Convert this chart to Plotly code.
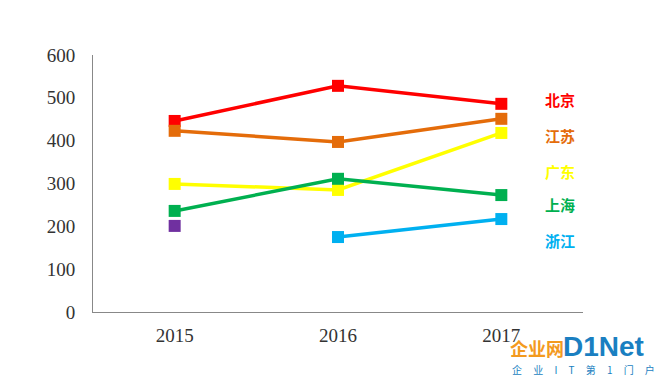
import plotly.graph_objects as go

years = ["2015", "2016", "2017"]
beijing = [446, 528, 486]
jiangsu = [423, 397, 451]
guangdong = [299, 285, 418]
shanghai = [236, 311, 273]
zhejiang = [None, 175, 217]
purple = [201, None, None]

names = ["北京", "江苏", "广东", "上海", "浙江"]
colors = ["#FF0000", "#E46C0A", "#FFFF00", "#00B050", "#00B0F0"]
series = [beijing, jiangsu, guangdong, shanghai, zhejiang]
label_y = [495, 411, 329, 250, 168]
yticks = [0, 100, 200, 300, 400, 500, 600]

xi = list(range(len(years)))
fig = go.Figure()
for s, c in zip(series, colors):
    fig.add_trace(go.Scatter(x=xi, y=s, mode="lines+markers",
                             line=dict(color=c, width=3.5),
                             marker=dict(symbol="square", size=12, color=c),
                             connectgaps=False, showlegend=False, hoverinfo="skip"))
fig.add_trace(go.Scatter(x=xi, y=purple, mode="markers",
                         marker=dict(symbol="square", size=12, color="#7030A0"),
                         showlegend=False, hoverinfo="skip"))

for n, c, ly in zip(names, colors, label_y):
    fig.add_annotation(x=2.5, y=ly, xref="x", yref="y", text="<b>" + n + "</b>",
                       showarrow=False, xanchor="left", xshift=-40,
                       font=dict(family="Noto Sans CJK SC", size=15, color=c))

# watermark
fig.add_annotation(x=1.0, y=0.0, xref="paper", yref="paper", text="<b>企业网</b>",
                   showarrow=False, xanchor="left", yanchor="top", xshift=-75, yshift=-21,
                   font=dict(family="Noto Sans CJK SC", size=18, color="#F39A1E"))
fig.add_annotation(x=1.0, y=0.0, xref="paper", yref="paper", text="<b>D1Net</b>",
                   showarrow=False, xanchor="left", yanchor="top", xshift=-22, yshift=-17,
                   font=dict(family="Liberation Sans", size=28, color="#1A7FC1"))
gap = "\u00a0" * 5
fig.add_annotation(x=1.0, y=0.0, xref="paper", yref="paper",
                   text=gap.join(["企", "业", "I", "T", "第", "1", "门", "户"]),
                   showarrow=False, xanchor="left", yanchor="top", xshift=-73, yshift=-48,
                   font=dict(family="Noto Sans CJK SC", size=10, color="#1A7FC1"))

fig.update_layout(
    width=662, height=368,
    margin=dict(l=85, r=87, t=47, b=64),
    plot_bgcolor="white", paper_bgcolor="white",
    font=dict(family="Liberation Serif", size=19, color="#333333"),
)
fig.update_xaxes(range=[-0.5, 2.5], tickvals=xi, ticktext=years, showgrid=False,
                 zeroline=False, showline=True, linecolor="#888888", linewidth=1,
                 ticks="", ticklabelstandoff=6)
fig.update_yaxes(range=[0, 600], tickvals=yticks, showgrid=False, zeroline=False,
                 showline=True, linecolor="#888888", linewidth=1, ticks="",
                 ticklabelstandoff=13)
fig.write_html("out.html")
